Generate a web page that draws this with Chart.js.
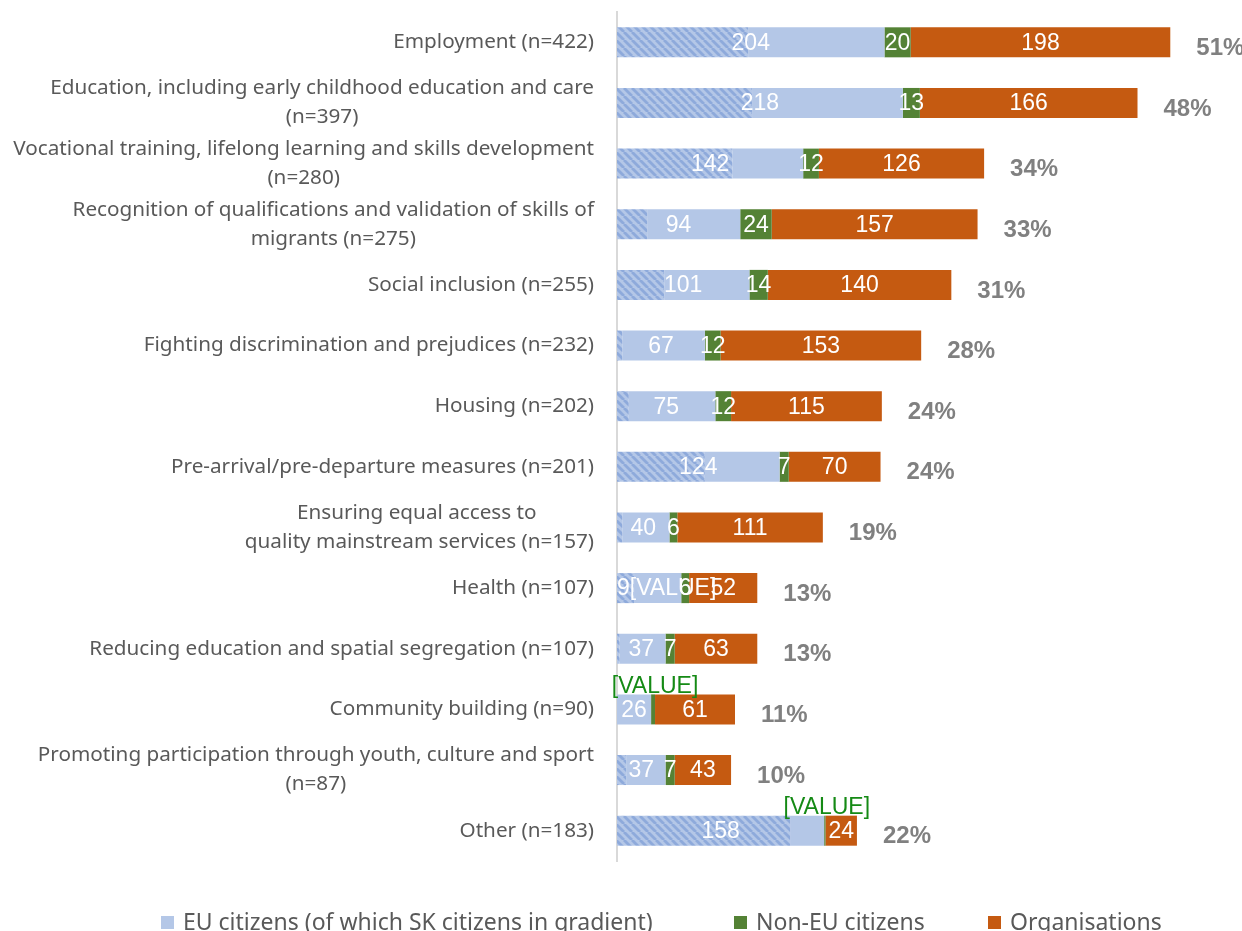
<!DOCTYPE html>
<html>
<head>
<meta charset="utf-8">
<script src="https://cdn.jsdelivr.net/npm/chart.js@4.4.1/dist/chart.umd.min.js"></script>
<style>
html,body{margin:0;padding:0;background:#ffffff;}
#wrap{position:relative;width:1242px;height:931px;overflow:hidden;}
#c{position:absolute;left:0;top:0;}
.lg{position:absolute;top:906px;height:30px;line-height:30px;font-family:"Noto Sans",sans-serif;font-size:23px;color:#595959;white-space:nowrap;}
.lg i{position:absolute;left:0;top:10px;width:13px;height:13px;}
.lg span{position:absolute;left:22px;top:0;}
</style>
</head>
<body>
<div id="wrap">
<canvas id="c" width="1242" height="931"></canvas>
<div class="lg" style="left:161px"><i style="background:#b4c7e7"></i><span>EU citizens (of which SK citizens in gradient)</span></div>
<div class="lg" style="left:734px"><i style="background:#548235"></i><span>Non-EU citizens</span></div>
<div class="lg" style="left:988px"><i style="background:#c55a11"></i><span>Organisations</span></div>
</div>
<script>
// ---- data ----
const categories = [
  'Employment (n=422)',
  ['Education, including early childhood education and care', '(n=397)'],
  ['Vocational training, lifelong learning and skills development', '(n=280)'],
  ['Recognition of qualifications and validation of skills of', 'migrants (n=275)'],
  'Social inclusion (n=255)',
  'Fighting discrimination and prejudices (n=232)',
  'Housing (n=202)',
  'Pre-arrival/pre-departure measures (n=201)',
  ['Ensuring equal access to ', 'quality mainstream services (n=157)'],
  'Health (n=107)',
  'Reducing education and spatial segregation (n=107)',
  'Community building (n=90)',
  ['Promoting participation through youth, culture and sport', '(n=87)'],
  'Other (n=183)'
];
const euCitizens    = [204, 218, 142, 94, 101, 67, 75, 124, 40, 49, 37, 26, 37, 158];
const skCitizens    = [100, 103, 88, 23, 36, 4, 9, 67, 4, 13, 2, 0, 7, 132];
const nonEuCitizens = [20, 13, 12, 24, 14, 12, 12, 7, 6, 6, 7, 3, 7, 1];
const organisations = [198, 166, 126, 157, 140, 153, 115, 70, 111, 52, 63, 61, 43, 24];
const shareLabels   = ['51%', '48%', '34%', '33%', '31%', '28%', '24%', '24%', '19%', '13%', '13%', '11%', '10%', '22%'];
const euLabelText    = ['204', '218', '142', '94', '101', '67', '75', '124', '40', '9[VALUE]', '37', '26', '37', '158'];
const nonEuLabelText = ['20', '13', '12', '24', '14', '12', '12', '7', '6', '6', '7', '[VALUE]', '7', '[VALUE]'];
const orgLabelText   = ['198', '166', '126', '157', '140', '153', '115', '70', '111', '52', '63', '61', '43', '24'];

// ---- styles ----
const C_EU = '#b4c7e7', C_SK_STRIPE = '#8eaadb', C_NONEU = '#548235', C_ORG = '#c55a11';

function makeHatch() {
  const c = document.createElement('canvas');
  c.width = 8; c.height = 8;
  const g = c.getContext('2d');
  g.fillStyle = C_EU; g.fillRect(0, 0, 8, 8);
  g.strokeStyle = C_SK_STRIPE; g.lineWidth = 2.8;
  for (const o of [-8, 0, 8]) { g.beginPath(); g.moveTo(o, 0); g.lineTo(o + 8, 8); g.stroke(); }
  return g.createPattern(c, 'repeat');
}

const euRest = euCitizens.map((v, i) => v - skCitizens[i]);

const labelPlugin = {
  id: 'labels',
  afterDatasetsDraw(chart) {
    const ctx = chart.ctx, xs = chart.scales.x, ys = chart.scales.y;
    ctx.save();
    ctx.textBaseline = 'middle';
    ctx.font = '23px "Liberation Sans", Arial, sans-serif';
    for (let i = 0; i < categories.length; i++) {
      const yc = ys.getPixelForValue(i) + 1;
      const x0 = xs.getPixelForValue(0);
      const x1 = xs.getPixelForValue(euCitizens[i]);
      const x2 = xs.getPixelForValue(euCitizens[i] + nonEuCitizens[i]);
      const x3 = xs.getPixelForValue(euCitizens[i] + nonEuCitizens[i] + organisations[i]);
      // EU label
      ctx.fillStyle = '#ffffff';
      if (euLabelText[i].indexOf('[') >= 0) {
        ctx.textAlign = 'left';
        ctx.fillText(euLabelText[i], x0, yc);
      } else {
        ctx.textAlign = 'center';
        ctx.fillText(euLabelText[i], (x0 + x1) / 2, yc);
      }
      // Non-EU label
      ctx.textAlign = 'center';
      if (nonEuLabelText[i].indexOf('[') >= 0) {
        ctx.fillStyle = '#158a15';
        ctx.fillText(nonEuLabelText[i], (x1 + x2) / 2 + 2, yc - 24);
      } else {
        ctx.fillStyle = '#ffffff';
        ctx.fillText(nonEuLabelText[i], (x1 + x2) / 2, yc);
      }
      // Organisations label
      ctx.fillStyle = '#ffffff';
      ctx.fillText(orgLabelText[i], (x2 + x3) / 2, yc);
      // share label
      ctx.save();
      ctx.font = 'bold 24px "Liberation Sans", Arial, sans-serif';
      ctx.fillStyle = '#808080';
      ctx.textAlign = 'left';
      ctx.fillText(shareLabels[i], x3 + 26, yc + 5);
      ctx.restore();
    }
    ctx.restore();
  },
  afterDraw(chart) {
    // category labels: block right-aligned, lines centred within the block
    const ctx = chart.ctx, ys = chart.scales.y;
    ctx.save();
    ctx.font = '20.7px "Noto Sans", sans-serif';
    ctx.fillStyle = '#595959';
    ctx.textBaseline = 'middle';
    ctx.textAlign = 'center';
    const right = chart.chartArea.left - 23;
    const lh = 29;
    categories.forEach((lab, i) => {
      const lines = Array.isArray(lab) ? lab : [lab];
      const w = Math.max(...lines.map(l => ctx.measureText(l).width));
      const cx = right - w / 2;
      const yc = ys.getPixelForValue(i);
      lines.forEach((l, j) => {
        ctx.fillText(l, cx, yc + (j - (lines.length - 1) / 2) * lh);
      });
    });
    ctx.restore();
  }
};

new Chart(document.getElementById('c'), {
  type: 'bar',
  data: {
    labels: categories,
    datasets: [
      { label: 'SK citizens', data: skCitizens, backgroundColor: makeHatch() },
      { label: 'EU citizens (of which SK citizens in gradient)', data: euRest, backgroundColor: C_EU },
      { label: 'Non-EU citizens', data: nonEuCitizens, backgroundColor: C_NONEU },
      { label: 'Organisations', data: organisations, backgroundColor: C_ORG }
    ]
  },
  options: {
    indexAxis: 'y',
    responsive: false,
    animation: false,
    devicePixelRatio: 1,
    layout: { padding: { left: 0, right: 35, top: 12, bottom: 70 } },
    datasets: { bar: { barPercentage: 0.495, categoryPercentage: 1.0, borderWidth: 0 } },
    scales: {
      x: { stacked: true, min: 0, max: 450, display: false },
      y: {
        stacked: true,
        grid: { display: false, drawTicks: false },
        border: { display: true, color: '#d9d9d9', width: 2 },
        ticks: { display: false },
        afterFit(s) { s.width = 617; }
      }
    },
    plugins: { legend: { display: false }, tooltip: { enabled: false } }
  },
  plugins: [labelPlugin]
});
</script>
</body>
</html>
